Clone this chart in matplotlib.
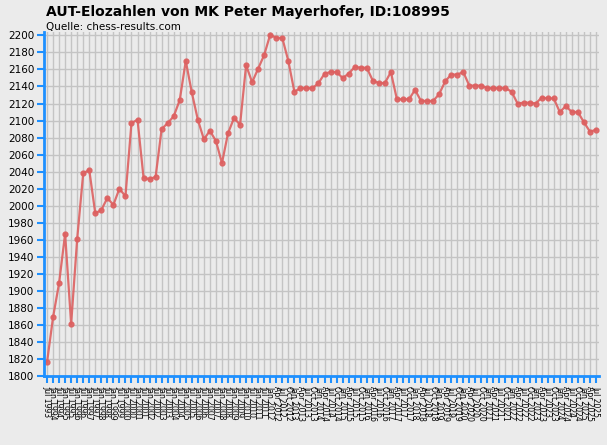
import matplotlib
matplotlib.use("Agg")
import matplotlib.pyplot as plt

elo = [1816,1869,1909,1967,1861,1961,2038,2042,1991,1995,2009,2001,2020,2011,2097,2101,
       2033,2031,2034,2090,2097,2105,2124,2170,2133,2101,2078,2088,2076,2050,2085,2103,
       2095,2165,2145,2161,2177,2201,2197,2197,2170,2134,2138,2138,2138,2144,2155,2157,
       2157,2150,2155,2163,2162,2162,2147,2144,2144,2157,2125,2125,2125,2136,2123,2123,
       2123,2131,2146,2154,2154,2157,2141,2141,2141,2138,2138,2138,2138,2134,2120,2121,
       2121,2120,2127,2126,2126,2110,2117,2110,2110,2098,2087,2089]
labels = []
for y in range(1993, 2012):
    labels += ["Jul %d" % y, "Jan %d" % (y + 1)]
for y in range(2012, 2026):
    for m in ["Apr", "Jul", "Oct", "Jan"]:
        yy = y + 1 if m == "Jan" else y
        labels.append("%s %d" % (m, yy))
labels = labels[:len(elo)]
yticks = list(range(1800, 2201, 20))

bg = "#ebebeb"
fig = plt.figure(figsize=(6.07, 4.45), dpi=100, facecolor=bg)
ax = fig.add_axes([44/607, 1-376/445, 555/607, 344/445], facecolor=bg)
x = list(range(len(elo)))
ax.plot(x, elo, color="#dd6060", lw=1.6, marker="o", ms=3.5, alpha=0.9)
ax.set_xlim(-0.5, len(elo) - 0.5)
ax.set_ylim(1800, 2204)
ax.set_yticks(yticks)
ax.set_yticklabels([str(v) for v in yticks], fontsize=7.5)
ax.set_xticks(x)
ax.set_xticklabels(labels, rotation=270, fontsize=5.5)
ax.grid(True, color="#c4c4c4", lw=1)
ax.set_axisbelow(True)
for s in ["top", "right"]:
    ax.spines[s].set_visible(False)
for s in ["left", "bottom"]:
    ax.spines[s].set_color("#1e90ff")
    ax.spines[s].set_linewidth(2)
ax.tick_params(axis="both", colors="#1e90ff", labelcolor="black", length=5, width=1.5, pad=2)
fig.text(46/607, 1-12/445, "AUT-Elozahlen von MK Peter Mayerhofer, ID:108995", fontsize=10, fontweight="bold", va="center")
fig.text(46/607, 1-27/445, "Quelle: chess-results.com", fontsize=7.5, va="center")
fig.savefig("out.png", dpi=100, facecolor=bg)
